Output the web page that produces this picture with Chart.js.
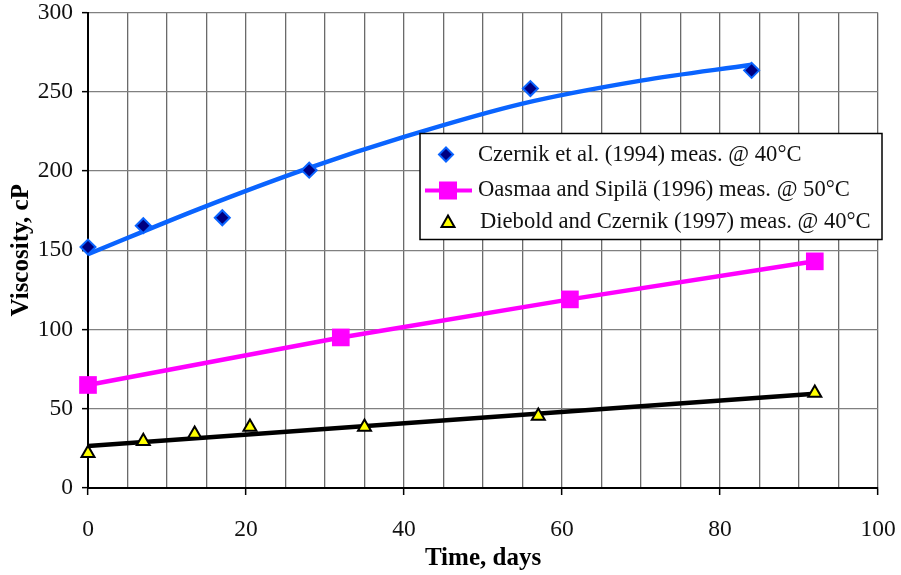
<!DOCTYPE html>
<html>
<head>
<meta charset="utf-8">
<title>Viscosity vs time</title>
<script src="https://cdn.jsdelivr.net/npm/chart.js@4.4.0/dist/chart.umd.min.js"></script>
<style>
  html, body { margin: 0; padding: 0; background: #fff; }
  #wrap { width: 901px; height: 575px; }
</style>
</head>
<body>
<div id="wrap"><canvas id="viscosity"></canvas></div>
<script>
// measured points
const czernikDays = [0, 7, 17, 28, 56, 84];
const czernikVisc = [152, 165.5, 170.5, 200.5, 252, 263.5];
const oasmaaDays = [0, 32, 61, 92];
const oasmaaVisc = [65, 95, 119, 143];
const dieboldDays = [0, 7, 13.5, 20.5, 35, 57, 92];
const dieboldVisc = [22, 29.5, 34, 38.5, 38.5, 45.5, 60];

// trend lines
const czernikFitDays = [0, 14, 28, 40, 55, 70, 84];
const czernikFitVisc = [147.5, 176, 202, 221.5, 242.5, 257, 267];
const dieboldFitDays = [0, 92];
const dieboldFitVisc = [26.5, 59.5];

const legendLabels = [
    "Czernik et al. (1994) meas. @ 40°C",
    "Oasmaa and Sipilä (1996) meas. @ 50°C",
    "Diebold and Czernik (1997) meas. @ 40°C"
];

const toPoints = (xs, ys) => xs.map((x, i) => ({ x: x, y: ys[i] }));

const BLUE = "#0a64ff";
const MAGENTA = "#ff00ff";
const SERIF = "'Liberation Serif', 'Times New Roman', serif";

// keep tick labels from pushing the plot area inwards
const noOverflow = (scale) => {
    scale.paddingTop = 0;
    scale.paddingBottom = 0;
    scale.paddingLeft = 0;
    scale.paddingRight = 0;
};

// boxed legend inside the plot
const boxLegend = {
    id: "boxLegend",
    afterDraw(chart) {
        const ctx = chart.ctx;
        const area = chart.chartArea;
        const x0 = area.left + 332;
        const y0 = area.top + 121;
        const w = 462, h = 106;
        ctx.save();
        ctx.fillStyle = "#fff";
        ctx.fillRect(x0, y0, w, h);
        ctx.strokeStyle = "#000";
        ctx.lineWidth = 1.5;
        ctx.strokeRect(x0, y0, w, h);

        const rowY = [y0 + 21, y0 + 57, y0 + 89];
        const mx = x0 + 26;

        // diamond
        ctx.beginPath();
        ctx.moveTo(mx, rowY[0] - 7);
        ctx.lineTo(mx + 7, rowY[0]);
        ctx.lineTo(mx, rowY[0] + 7);
        ctx.lineTo(mx - 7, rowY[0]);
        ctx.closePath();
        ctx.fillStyle = "#000080";
        ctx.fill();
        ctx.strokeStyle = BLUE;
        ctx.lineWidth = 2;
        ctx.stroke();

        // line + square
        ctx.beginPath();
        ctx.moveTo(x0 + 5, rowY[1]);
        ctx.lineTo(x0 + 52, rowY[1]);
        ctx.strokeStyle = MAGENTA;
        ctx.lineWidth = 4;
        ctx.stroke();
        ctx.fillStyle = MAGENTA;
        ctx.fillRect(mx + 2 - 9, rowY[1] - 9, 18, 18);

        // triangle
        ctx.beginPath();
        ctx.moveTo(mx + 2, rowY[2] - 7);
        ctx.lineTo(mx + 2 + 6.5, rowY[2] + 4.5);
        ctx.lineTo(mx + 2 - 6.5, rowY[2] + 4.5);
        ctx.closePath();
        ctx.fillStyle = "#ffff00";
        ctx.fill();
        ctx.strokeStyle = "#000";
        ctx.lineWidth = 2;
        ctx.stroke();

        ctx.fillStyle = "#111";
        ctx.font = "22.6px " + SERIF;
        ctx.textBaseline = "middle";
        ctx.textAlign = "left";
        ctx.fillText(legendLabels[0], x0 + 58, rowY[0] + 1);
        ctx.fillText(legendLabels[1], x0 + 58, rowY[1]);
        ctx.fillText(legendLabels[2], x0 + 60, rowY[2]);
        ctx.restore();
    }
};

new Chart(document.getElementById("viscosity"), {
    type: "scatter",
    data: {
        datasets: [
            {
                label: legendLabels[0],
                data: toPoints(czernikDays, czernikVisc),
                pointStyle: "rectRot",
                pointRadius: 7.5,
                pointBackgroundColor: "#000080",
                pointBorderColor: BLUE,
                pointBorderWidth: 2,
                showLine: false,
                clip: false
            },
            {
                label: legendLabels[1],
                data: toPoints(oasmaaDays, oasmaaVisc),
                pointStyle: "rect",
                pointRadius: 12.5,
                pointBackgroundColor: MAGENTA,
                pointBorderWidth: 0,
                showLine: true,
                borderColor: MAGENTA,
                borderWidth: 4.5,
                clip: false
            },
            {
                label: legendLabels[2],
                data: toPoints(dieboldDays, dieboldVisc),
                pointStyle: "triangle",
                pointRadius: 7.5,
                pointBackgroundColor: "#ffff00",
                pointBorderColor: "#000",
                pointBorderWidth: 2,
                showLine: false,
                clip: false
            },
            {
                label: "czernik fit",
                data: toPoints(czernikFitDays, czernikFitVisc),
                showLine: true,
                cubicInterpolationMode: "monotone",
                borderColor: BLUE,
                borderWidth: 4.5,
                pointRadius: 0
            },
            {
                label: "diebold fit",
                data: toPoints(dieboldFitDays, dieboldFitVisc),
                showLine: true,
                borderColor: "#000",
                borderWidth: 4.5,
                pointRadius: 0
            }
        ]
    },
    options: {
        responsive: true,
        maintainAspectRatio: false,
        animation: false,
        layout: { padding: { top: 10, right: 23, left: 0, bottom: 0 } },
        scales: {
            x: {
                type: "linear",
                min: 0,
                max: 100,
                afterFit(scale) { scale.height = 87; noOverflow(scale); },
                grid: {
                    color: "#6a6a6a",
                    lineWidth: 1.3,
                    tickLength: 7,
                    tickColor: (c) => (c.tick && c.tick.value % 20 === 0 ? "#000" : "rgba(0,0,0,0)"),
                    tickWidth: 1.5
                },
                border: { color: "#000", width: 2 },
                ticks: {
                    stepSize: 5,
                    autoSkip: false,
                    maxRotation: 0,
                    padding: 21,
                    color: "#111",
                    font: { family: SERIF, size: 23.5 },
                    callback: (v) => (v % 20 === 0 ? v : "")
                },
                title: {
                    display: true,
                    text: "Time, days",
                    color: "#000",
                    font: { family: SERIF, size: 25, weight: "bold" },
                    padding: { top: 0, bottom: 1 }
                }
            },
            y: {
                min: 0,
                max: 300,
                afterFit(scale) { scale.width = 88; noOverflow(scale); },
                grid: {
                    color: "#808080",
                    lineWidth: 1.3,
                    tickLength: 6,
                    tickColor: "#000",
                    tickWidth: 1.5
                },
                border: { color: "#000", width: 2 },
                ticks: {
                    stepSize: 50,
                    padding: 9,
                    color: "#111",
                    font: { family: SERIF, size: 23.5 }
                },
                title: {
                    display: true,
                    text: "Viscosity, cP",
                    color: "#000",
                    font: { family: SERIF, size: 25, weight: "bold" },
                    padding: { top: 7, bottom: 0 }
                }
            }
        },
        plugins: {
            legend: { display: false },
            tooltip: { enabled: false }
        }
    },
    plugins: [boxLegend]
});
</script>
</body>
</html>
